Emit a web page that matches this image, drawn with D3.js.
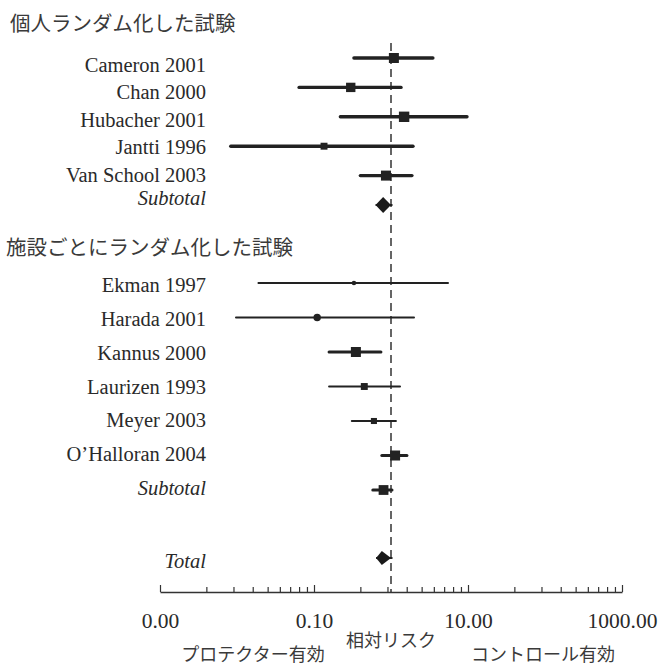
<!DOCTYPE html>
<html>
<head>
<meta charset="utf-8">
<script src="https://cdn.jsdelivr.net/npm/d3@7"></script>
<style>
body { margin: 0; background: #fff; }
text { fill: #2a2a2a; }
.lat { font-family: "Liberation Serif", "DejaVu Serif", serif; }
.jp { font-family: "Noto Sans CJK JP", sans-serif; fill: #3a3a3a; }
</style>
</head>
<body>
<div id="chart"></div>
<script>
// data (relative risk, 95% CI, weight)
var group1Title = "個人ランダム化した試験";
var group1Studies = ["Cameron 2001", "Chan 2000", "Hubacher 2001", "Jantti 1996", "Van School 2003"];
var group1Est = [1.09, 0.30, 1.48, 0.135, 0.86];
var group1Lo = [0.33, 0.064, 0.22, 0.0083, 0.40];
var group1Hi = [3.5, 1.35, 9.7, 1.93, 1.87];
var group1Weight = [9.8, 8.6, 10.6, 4.7, 9.8];
var group1Subtotal = [0.79, 0.63, 1.0]; // est, lo, hi

var group2Title = "施設ごとにランダム化した試験";
var group2Studies = ["Ekman 1997", "Harada 2001", "Kannus 2000", "Laurizen 1993", "Meyer 2003", "O\u2019Halloran 2004"];
var group2Est = [0.33, 0.11, 0.35, 0.45, 0.60, 1.13];
var group2Lo = [0.019, 0.0097, 0.157, 0.157, 0.31, 0.76];
var group2Hi = [5.5, 1.99, 0.74, 1.31, 1.16, 1.61];
var group2Weight = [1.5, 4.6, 9.8, 4.7, 3.6, 9.8];
var group2Subtotal = [0.80, 0.58, 1.03];

var total = [0.76, 0.64, 1.0];

var majorTicks = [0.001, 0.1, 10, 1000];
var axisTitle = "相対リスク";
var leftNote = "プロテクター有効";
var rightNote = "コントロール有効";

var w = 661, h = 667;
var axisY = 592;
var labelRight = 206;

var svg = d3.select("#chart").append("svg")
    .attr("width", w)
    .attr("height", h);

var x = d3.scaleLog().domain([0.001, 1000]).range([160, 622]);
var size = d3.scaleSqrt().domain([0, 10]).range([0, 10.1]);

// row positions
var markY1 = d3.scaleLinear().domain([0, 5]).range([58, 205]);
var textY1 = d3.scaleLinear().domain([0, 4]).range([71.5, 181.5]);
var markY2 = d3.scaleLinear().domain([0, 6]).range([283, 490]);
var textY2 = d3.scaleLinear().domain([0, 6]).range([292, 495]);

var dots = ["Ekman 1997", "Harada 2001"];

// line of no effect
svg.append("line")
    .attr("x1", x(1)).attr("x2", x(1))
    .attr("y1", 43).attr("y2", axisY)
    .style("stroke", "#333")
    .style("stroke-width", 1.5)
    .style("stroke-dasharray", "8,5");

function drawStudy(y, est, lo, hi, wgt, lw, dot) {
    var g = svg.append("g");
    g.append("line")
        .attr("x1", x(lo)).attr("x2", x(hi))
        .attr("y1", y).attr("y2", y)
        .style("stroke", "#222")
        .style("stroke-width", lw)
        .style("stroke-linecap", "round");
    var s = size(wgt);
    if (dot) {
        g.append("circle")
            .attr("cx", x(est)).attr("cy", y)
            .attr("r", s / 2 + 0.3)
            .style("fill", "#222");
    } else {
        g.append("rect")
            .attr("x", x(est) - s / 2).attr("y", y - s / 2)
            .attr("width", s).attr("height", s)
            .style("fill", "#222");
    }
}

function drawDiamond(y, vals, hh) {
    var pts = [[x(vals[1]), y], [x(vals[0]), y - hh], [x(vals[2]), y], [x(vals[0]), y + hh]];
    svg.append("line")
        .attr("x1", x(vals[1])).attr("x2", x(vals[2]) + 1.5)
        .attr("y1", y).attr("y2", y)
        .style("stroke", "#222").style("stroke-width", 2);
    svg.append("path")
        .attr("d", d3.line()(pts) + "Z")
        .style("fill", "#1a1a1a");
}

function label(txt, y, italic) {
    svg.append("text")
        .attr("class", "lat")
        .attr("x", labelRight).attr("y", y)
        .attr("text-anchor", "end")
        .style("font-size", "20.5px")
        .style("font-style", italic ? "italic" : "normal")
        .text(txt);
}

// group 1
svg.append("text").attr("class", "jp")
    .attr("x", 10).attr("y", 31)
    .style("font-size", "20.5px")
    .text(group1Title);

group1Studies.forEach(function(d, i) {
    label(d, textY1(i), false);
    drawStudy(markY1(i), group1Est[i], group1Lo[i], group1Hi[i], group1Weight[i], 3.4, false);
});
label("Subtotal", 205, true);
drawDiamond(markY1(5), group1Subtotal, 8);

// group 2
svg.append("text").attr("class", "jp")
    .attr("x", 6).attr("y", 255)
    .style("font-size", "20.5px")
    .text(group2Title);

group2Studies.forEach(function(d, i) {
    label(d, textY2(i), false);
    var lw = group2Weight[i] > 8 ? 3 : 2;
    drawStudy(markY2(i), group2Est[i], group2Lo[i], group2Hi[i], group2Weight[i], lw, dots.indexOf(d) >= 0);
});
label("Subtotal", textY2(6), true);
drawStudy(markY2(6), group2Subtotal[0], group2Subtotal[1], group2Subtotal[2], 9.4, 3, false);

// total
label("Total", 568, true);
drawDiamond(558, total, 7);

// axis
var minorTicks = [];
majorTicks.slice(0, 3).forEach(function(m) {
    for (var k = 2; k <= 9; k++) minorTicks.push(m * k * k);
});

var gMinor = svg.append("g")
    .attr("transform", "translate(0," + axisY + ")")
    .call(d3.axisBottom(x).tickValues(minorTicks).tickSizeInner(-5).tickSizeOuter(0).tickFormat(""));
gMinor.select(".domain").remove();

var gMajor = svg.append("g")
    .attr("transform", "translate(0," + axisY + ")")
    .call(d3.axisBottom(x).tickValues(majorTicks).tickSizeInner(-7).tickSizeOuter(0)
        .tickPadding(21).tickFormat(d3.format(".2f")));

svg.selectAll(".tick line").style("stroke", "#333").style("stroke-width", 1.2);
gMajor.select(".domain").style("stroke", "#333").style("stroke-width", 1.5);
gMajor.selectAll(".tick text")
    .attr("class", "lat")
    .style("font-size", "21.5px")
    .style("fill", "#2a2a2a");

svg.append("text").attr("class", "jp")
    .attr("x", x(1)).attr("y", 647)
    .attr("text-anchor", "middle")
    .style("font-size", "18px")
    .text(axisTitle);
svg.append("text").attr("class", "jp")
    .attr("x", 253).attr("y", 661)
    .attr("text-anchor", "middle")
    .style("font-size", "18px")
    .text(leftNote);
svg.append("text").attr("class", "jp")
    .attr("x", 543).attr("y", 661)
    .attr("text-anchor", "middle")
    .style("font-size", "18px")
    .text(rightNote);
</script>
</body>
</html>
